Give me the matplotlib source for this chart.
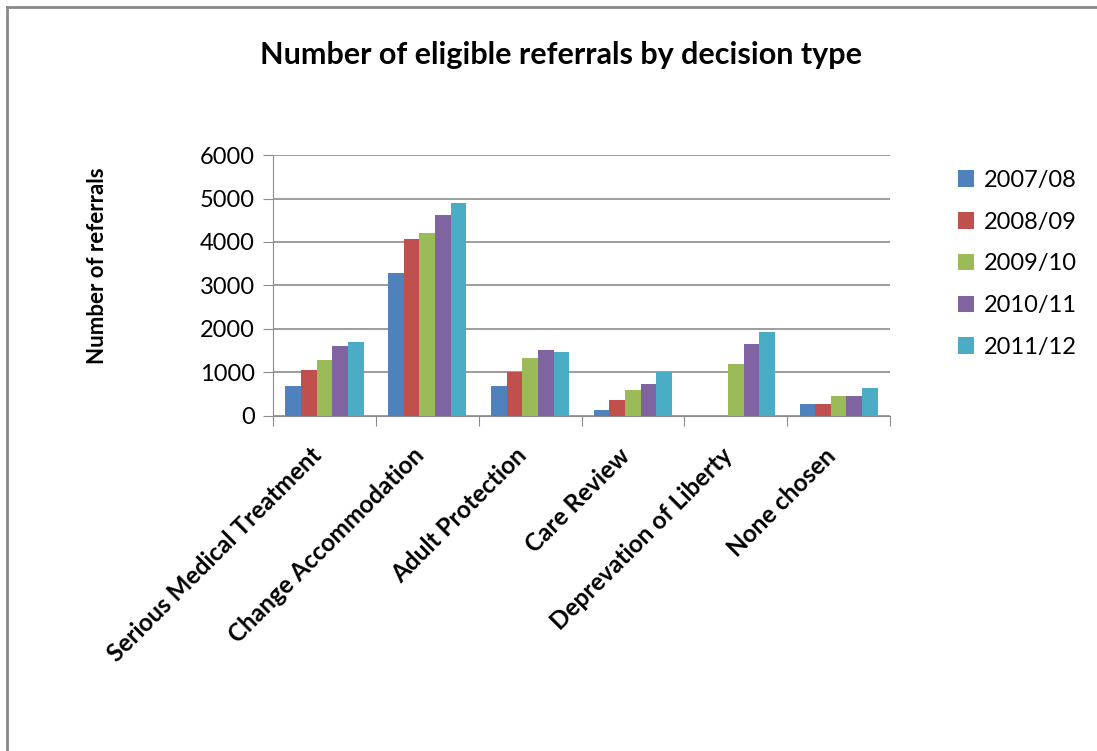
import numpy as np
import matplotlib.pyplot as plt
from matplotlib.lines import Line2D
from matplotlib.transforms import ScaledTranslation

plt.rcParams['font.family'] = ['Lato', 'DejaVu Sans']

categories = ['Serious Medical Treatment', 'Change Accommodation', 'Adult Protection',
              'Care Review', 'Deprevation of Liberty', 'None chosen']
years = ['2007/08', '2008/09', '2009/10', '2010/11', '2011/12']
y2007 = [700, 3290, 695, 145, 0, 282]
y2008 = [1060, 4070, 1015, 373, 0, 282]
y2009 = [1290, 4206, 1335, 602, 1198, 465]
y2010 = [1610, 4617, 1518, 739, 1656, 465]
y2011 = [1700, 4886, 1472, 1015, 1924, 647]
series = [y2007, y2008, y2009, y2010, y2011]
colors = ['#4F81BD', '#C0504D', '#9BBB59', '#8064A2', '#4BACC6']

fig = plt.figure(figsize=(10.97, 7.51), dpi=100)
ax = fig.add_axes([0.2489, 0.4461, 0.5624, 0.3475])

x = np.arange(len(categories))
w = 0.152
for i, (vals, c, lab) in enumerate(zip(series, colors, years)):
    ax.bar(x + (i - 2) * w, vals, width=w, color=c, label=lab, zorder=3)

ax.set_xlim(-0.5, len(categories) - 0.5)
ax.set_ylim(0, 6000)
ax.set_yticks(range(0, 6001, 1000))
ax.yaxis.grid(True, color='#8c8c8c', linewidth=1.2, zorder=0)
ax.set_axisbelow(True)

for s in ['top', 'right']:
    ax.spines[s].set_visible(False)
ax.spines['left'].set_color('#8c8c8c')
ax.spines['bottom'].set_color('#8c8c8c')

# category ticks sit between groups
ax.set_xticks(np.arange(-0.5, len(categories), 1.0))
ax.set_xticklabels([])
ax.tick_params(axis='x', length=7, color='#8c8c8c', direction='out')
ax.set_xticks(x, minor=True)
ax.set_xticklabels(categories, minor=True, rotation=45, ha='right', va='top',
                   rotation_mode='anchor', fontsize=17.5, fontweight='bold')
ax.tick_params(axis='x', which='minor', length=0, pad=20)
shift = ScaledTranslation(-0.15, 0, fig.dpi_scale_trans)
for t in ax.get_xticklabels(minor=True):
    t.set_transform(t.get_transform() + shift)
ax.tick_params(axis='y', length=7, color='#8c8c8c', labelsize=17, pad=6)

ax.set_ylabel('Number of referrals', fontsize=16, fontweight='bold')
ax.yaxis.set_label_coords(-0.268, 0.575)

fig.text(0.511, 0.927, 'Number of eligible referrals by decision type',
         ha='center', va='center', fontsize=22, fontweight='bold')

ax.legend(loc='upper left', bbox_to_anchor=(1.075, 1.025), frameon=False,
          fontsize=17, handlelength=0.7, handleheight=0.7, handletextpad=0.4,
          labelspacing=0.88)

# chart border (top and left edges)
fx = 6.5 / 1097
fy = 1 - 7 / 751
fig.add_artist(Line2D([fx, 1.0], [fy, fy], color='#8a8a8a', lw=2, transform=fig.transFigure))
fig.add_artist(Line2D([fx, fx], [0.0, fy], color='#8a8a8a', lw=2, transform=fig.transFigure))

fig.savefig('out.png', dpi=100, facecolor='white')
